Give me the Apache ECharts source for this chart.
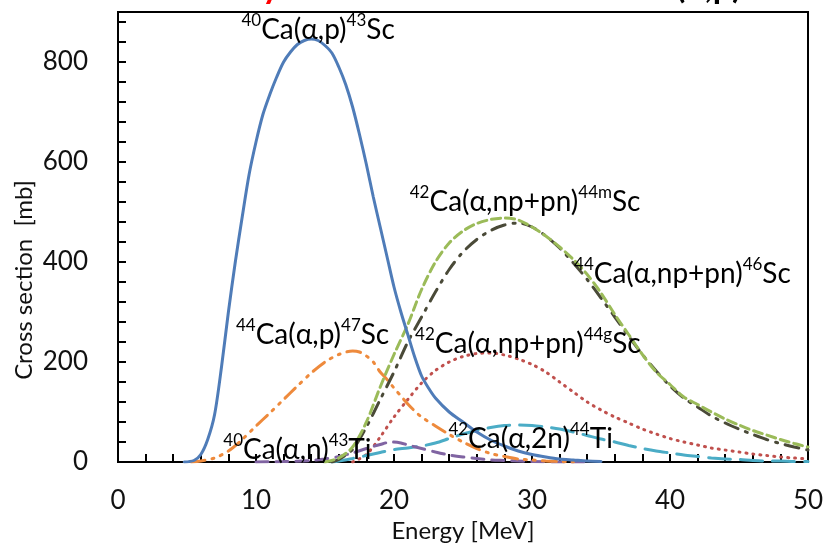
<!DOCTYPE html>
<html>
<head>
<meta charset="UTF-8">
<title>Cross section</title>
<script src="https://cdn.jsdelivr.net/npm/echarts@6/dist/echarts.min.js"></script>
<style>html,body{margin:0;padding:0;background:#fff}</style>
</head>
<body>
<div id="main" style="width:823px;height:545px"></div>
<script>
// [energy MeV, cross section mb]
var ca40_p_sc43 = [[4.8,0],[5.5,3],[6,15],[6.5,45],[7,95],[7.5,190],[8,300],[8.5,400],[9,490],[9.5,575],[10,640],[10.5,695],[11,735],[11.5,770],[12,800],[12.5,820],[13,835],[13.5,843],[14,846],[14.5,843],[15,833],[15.5,818],[16,790],[16.5,755],[17,710],[17.5,655],[18,595],[18.5,530],[19,470],[19.5,410],[20,350],[20.5,300],[21,255],[21.5,210],[22,172],[22.5,148],[23,128],[24,100],[25,80],[26,60],[27,44],[28,32],[29,22],[30,15],[31,10],[32,6],[33,4],[34,2],[35,1]];
var ca44_p_sc47 = [[5.3,0],[6,2],[7,8],[8,22],[9,45],[10,72],[11,98],[12,125],[13,152],[14,178],[15,200],[16,215],[17,222],[17.5,220],[18,212],[18.5,200],[19,180],[19.5,165],[20,148],[20.5,132],[21,116],[21.5,102],[22,90],[23,72],[24,55],[25,40],[26,27],[27,17],[28,11],[29,6],[30,4],[31,2],[32,1],[33,0]];
var ca42_nppn_sc44m = [[15,0],[16,8],[17,30],[18,80],[19,150],[20,215],[21,275],[22,345],[23,400],[24,438],[25,462],[26,477],[27,485],[28,488],[29,484],[30,470],[31,452],[32,430],[33,405],[34,375],[35,338],[36,295],[37,255],[38,215],[39,180],[40,155],[41,130],[42,115],[43,100],[44,86],[45,74],[46,63],[47,54],[48,45],[49,37],[50,30]];
var ca44_nppn_sc46 = [[15.5,0],[16,5],[17,25],[18,70],[19,125],[20,180],[21,240],[22,290],[23,340],[24,385],[25,420],[26,445],[27,463],[28,474],[29,478],[30,470],[31,452],[32,428],[33,398],[34,365],[35,328],[36,290],[37,252],[38,215],[39,182],[40,152],[41,128],[42,110],[43,92],[44,78],[45,66],[46,55],[47,45],[48,37],[49,30],[50,24]];
var ca42_nppn_sc44g = [[17,0],[18,15],[19,50],[20,90],[21,125],[22,158],[23,183],[24,200],[25,211],[26,217],[27,218],[28,214],[29,206],[30,195],[31,180],[32,160],[33,140],[34,120],[35,104],[36,90],[37,78],[38,66],[39,56],[40,47],[41,40],[42,34],[43,28],[44,24],[45,20],[46,16],[47,13],[48,10],[49,8],[50,6]];
var ca42_2n_ti44 = [[15.5,0],[16,2],[17,7],[18,13],[19,19],[20,25],[21,28],[22,32],[23,38],[24,47],[25,56],[26,63],[27,69],[28,73],[29,74],[30,73],[31,70],[32,66],[33,60],[34,53],[35,46],[36,40],[37,33],[38,27],[39,22],[40,18],[41,14],[42,11],[43,8],[44,6],[45,5],[46,3],[47,2],[48,2],[49,1],[50,1]];
var ca40_n_ti43 = [[10,0],[12,1],[14,3],[15,6],[16,11],[17,18],[18,27],[19,35],[19.8,40],[20.5,38],[21,34],[22,27],[23,20],[24,14],[25,10],[26,7],[27,4],[28,3],[29,2],[30,1],[32,0],[34,0]];

var xLabels = [0, 10, 20, 30, 40, 50];
var yLabels = [0, 200, 400, 600, 800];

var curveLabels = [
  {text: '{s|40}{n|Ca(α,p)}{s|43}{n|Sc}', at: [14.5, 868]},
  {text: '{s|42}{n|Ca(α,np+pn)}{s|44m}{n|Sc}', at: [29.5, 524]},
  {text: '{s|44}{n|Ca(α,np+pn)}{s|46}{n|Sc}', at: [40.9, 380]},
  {text: '{s|44}{n|Ca(α,p)}{s|47}{n|Sc}', at: [14.1, 258]},
  {text: '{s|42}{n|Ca(α,np+pn)}{s|44g}{n|Sc}', at: [29.7, 240]},
  {text: '{s|42}{n|Ca(α,2n)}{s|44}{n|Ti}', at: [29.9, 50]},
  {text: '{s|40}{n|Ca(α,n)}{s|43}{n|Ti}', at: [13.0, 28]}
];

var FONT = 'Lato, "Noto Sans", sans-serif';
var chart = echarts.init(document.getElementById('main'));

function line(data, color, type) {
  return {
    type: 'line', data: data, smooth: 0.3, showSymbol: false, symbol: 'none',
    lineStyle: {color: color, width: 3, type: type, cap: 'round'},
    itemStyle: {color: color}, animation: false
  };
}

var tickStyle = {color: '#000', width: 2};

chart.setOption({
  animation: false,
  grid: {left: 118, right: 15, top: 12, bottom: 83, containLabel: false, outerBoundsMode: 'none',
    show: true, borderColor: '#000', borderWidth: 2},
  xAxis: {
    type: 'value', min: 0, max: 50, interval: 2,
    axisLine: {lineStyle: tickStyle},
    axisTick: {inside: true, length: 8, lineStyle: tickStyle},
    splitLine: {show: false},
    axisLabel: {
      fontSize: 26, color: '#111', fontFamily: FONT, margin: 26,
      formatter: function (v) { return xLabels.indexOf(v) >= 0 ? String(v) : ''; }
    },
    name: 'Energy [MeV]', nameLocation: 'middle', nameGap: 54,
    nameTextStyle: {fontSize: 24, color: '#111', fontFamily: FONT}
  },
  yAxis: {
    type: 'value', min: 0, max: 900, interval: 40,
    axisLine: {show: true, lineStyle: tickStyle},
    axisTick: {show: true, inside: true, length: 8, lineStyle: tickStyle},
    splitLine: {show: false},
    axisLabel: {
      fontSize: 26, color: '#111', fontFamily: FONT, margin: 30,
      formatter: function (v) { return yLabels.indexOf(v) >= 0 ? String(v) : ''; }
    }
  },
  series: [
    line(ca42_nppn_sc44g, '#C0504D', [1, 6]),
    line(ca42_2n_ti44, '#4BACC6', [22, 10]),
    line(ca40_n_ti43, '#8064A2', [12, 8]),
    line(ca44_p_sc47, '#EE8A3C', [14, 7, 2, 7, 2, 7]),
    line(ca44_nppn_sc46, '#4A4A38', [14, 8, 2, 8]),
    line(ca42_nppn_sc44m, '#9BBB59', [9, 5]),
    line(ca40_p_sc43, '#4F7CB8', 'solid')
  ]
});

var rich = {
  n: {fontSize: 28, fontFamily: FONT, color: '#000', verticalAlign: 'bottom', lineHeight: 32},
  s: {fontSize: 17, fontFamily: FONT, color: '#000', verticalAlign: 'top', lineHeight: 32}
};
var elements = curveLabels.map(function (l) {
  var p = chart.convertToPixel({gridIndex: 0}, l.at);
  return {
    type: 'text', x: p[0], y: p[1], z: 100,
    style: {text: l.text, rich: rich, align: 'center', verticalAlign: 'middle'}
  };
});
// y axis name
elements.push({type: 'text', x: 24, y: 280, rotation: Math.PI / 2, z: 100,
  style: {text: 'Cross section  [mb]', fill: '#111', font: '24px ' + FONT, align: 'center', verticalAlign: 'middle'}});
// cut-off title at the top edge
elements.push({type: 'text', x: 262, y: 4, z: 100,
  style: {text: 'y', fill: '#ff0000', font: 'bold 34px ' + FONT, align: 'left', verticalAlign: 'bottom'}});
elements.push({type: 'text', x: 676, y: 4, z: 100,
  style: {text: '(α,p)', fill: '#000', font: 'bold 34px ' + FONT, align: 'left', verticalAlign: 'bottom'}});
chart.setOption({graphic: elements});
</script>
</body>
</html>
